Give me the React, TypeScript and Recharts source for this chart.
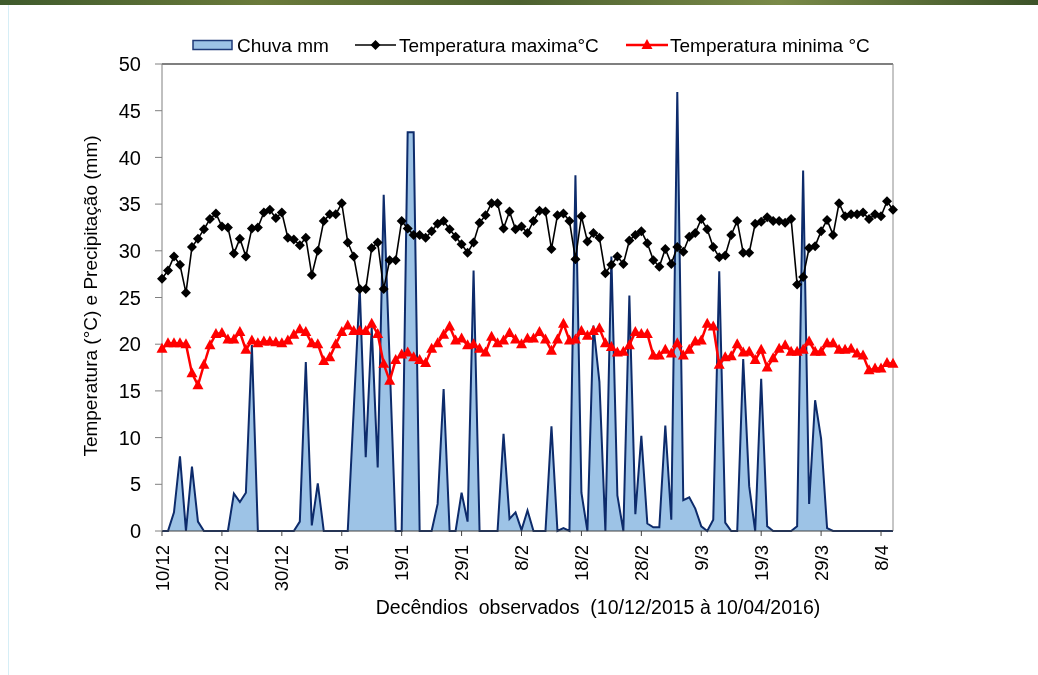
import { ComposedChart, Area, Line, XAxis, YAxis, ReferenceLine, Label } from 'recharts'

// 10/12/2015 .. 10/04/2016, one value per day
const chuva = [
  0, 0, 2.0, 8.0, 0, 6.9, 1.0, 0, 0, 0,
  0, 0, 4.0, 3.1, 4.1, 19.9, 0, 0, 0, 0,
  0, 0, 0, 1.0, 18.1, 0.6, 5.1, 0, 0, 0,
  0, 0, 13.0, 26.0, 7.9, 21.8, 6.8, 36.0, 18.0, 0,
  0, 42.7, 42.7, 0, 0, 0, 2.9, 15.2, 0, 0,
  4.1, 1.0, 27.9, 0, 0, 0, 0, 10.4, 1.3, 2.0,
  0.1, 2.2, 0, 0, 0, 11.2, 0, 0.3, 0, 38.1,
  4.1, 0, 22.0, 16.0, 0, 29.4, 3.8, 0, 25.2, 1.8,
  10.2, 0.8, 0.4, 0.4, 11.3, 1.2, 47.0, 3.3, 3.6, 2.4,
  0.5, 0, 1.2, 27.8, 0.9, 0, 0, 18.4, 4.8, 0,
  16.3, 0.5, 0, 0, 0, 0, 0.5, 38.6, 2.9, 14.0,
  9.9, 0.3, 0, 0, 0, 0, 0, 0, 0, 0,
  0, 0, 0,
]

const tempMax = [
  27.0, 27.9, 29.4, 28.5, 25.5, 30.4, 31.3, 32.3, 33.4, 34.0,
  32.6, 32.5, 29.7, 31.3, 29.4, 32.4, 32.5, 34.1, 34.4, 33.5,
  34.1, 31.4, 31.2, 30.6, 31.4, 27.4, 30.0, 33.2, 33.9, 33.9,
  35.1, 30.9, 29.4, 25.9, 25.9, 30.3, 30.9, 25.9, 29.0, 29.0,
  33.2, 32.4, 31.7, 31.7, 31.4, 32.1, 32.9, 33.2, 32.3, 31.5,
  30.7, 29.8, 30.9, 33.0, 33.8, 35.1, 35.1, 32.4, 34.2, 32.3,
  32.6, 31.9, 33.2, 34.3, 34.2, 30.2, 33.8, 34.0, 33.2, 29.1,
  33.7, 31.0, 31.9, 31.4, 27.6, 28.5, 29.4, 28.6, 31.1, 31.7,
  32.1, 30.8, 29.0, 28.3, 30.2, 28.6, 30.4, 29.9, 31.5, 31.9,
  33.4, 32.3, 30.4, 29.3, 29.5, 31.7, 33.2, 29.8, 29.8, 32.9,
  33.1, 33.6, 33.2, 33.2, 33.0, 33.4, 26.4, 27.2, 30.3, 30.5,
  32.1, 33.3, 31.7, 35.1, 33.7, 33.9, 33.9, 34.1, 33.4, 33.9,
  33.7, 35.3, 34.4,
]

const tempMin = [
  19.5, 20.1, 20.1, 20.1, 20.0, 16.9, 15.6, 17.8, 19.9, 21.1,
  21.2, 20.5, 20.5, 21.3, 19.4, 20.4, 20.1, 20.3, 20.3, 20.2,
  20.1, 20.4, 21.0, 21.6, 21.3, 20.1, 20.0, 18.2, 18.6, 20.0,
  21.3, 22.0, 21.4, 21.4, 21.4, 22.2, 21.1, 17.9, 16.1, 18.3,
  18.9, 19.1, 18.6, 18.3, 18.0, 19.5, 20.1, 21.0, 21.9, 20.4,
  20.6, 19.9, 20.0, 19.5, 19.1, 20.8, 20.1, 20.4, 21.2, 20.5,
  20.0, 20.6, 20.6, 21.3, 20.5, 19.3, 20.5, 22.2, 20.4, 20.5,
  21.4, 20.9, 21.4, 21.7, 20.1, 19.7, 19.1, 19.2, 19.9, 21.3,
  21.1, 21.1, 18.8, 18.8, 19.4, 19.0, 20.1, 18.8, 19.4, 20.3,
  20.4, 22.2, 21.9, 17.8, 18.6, 18.7, 20.0, 19.1, 19.2, 18.3,
  19.4, 17.5, 18.5, 19.5, 19.9, 19.2, 19.2, 19.4, 20.3, 19.2,
  19.2, 20.1, 20.1, 19.4, 19.4, 19.5, 19.0, 18.8, 17.2, 17.4,
  17.4, 18.0, 17.9,
]

// one tick every 10 days
const tickLabels = ['10/12', '20/12', '30/12', '9/1', '19/1', '29/1', '8/2', '18/2', '28/2', '9/3', '19/3', '29/3', '8/4']
const yTicks = [0, 5, 10, 15, 20, 25, 30, 35, 40, 45, 50]

const data = tempMax.map((v, i) => ({ dia: i, chuva: chuva[i], tmax: v, tmin: tempMin[i] }))
const xTicks = tickLabels.map((_, i) => i * 10)
const lastDay = data.length - 1

const FONT = '"Liberation Sans", Arial, sans-serif'

const Diamond = (props: any) => {
  const { cx, cy } = props
  if (cx == null || cy == null) return null
  return <polygon points={`${cx},${cy - 5} ${cx + 5},${cy} ${cx},${cy + 5} ${cx - 5},${cy}`} fill="#000" />
}

const Triangle = (props: any) => {
  const { cx, cy } = props
  if (cx == null || cy == null) return null
  return <polygon points={`${cx},${cy - 6} ${cx + 5.5},${cy + 4} ${cx - 5.5},${cy + 4}`} fill="#ff0000" />
}

const XTick = (props: any) => {
  const { x, y, payload } = props
  return (
    <g transform={`translate(${x + 6.5},${y + 7})`}>
      <text transform="rotate(-90)" textAnchor="end" fontSize={18.5} fontFamily={FONT} fill="#000">
        {tickLabels[payload.value / 10]}
      </text>
    </g>
  )
}

function LegendBox() {
  return (
    <svg width={1030} height={60} style={{ position: 'absolute', left: 0, top: 0 }}>
      <g fontFamily={FONT} fontSize={19} fill="#000">
        <rect x={185} y={32.5} width={39} height={9} fill="#9dc3e6" stroke="#1f3a78" strokeWidth={1.5} />
        <text x={229} y={43.5}>Chuva mm</text>
        <line x1={347} x2={388} y1={37} y2={37} stroke="#000" strokeWidth={1.5} />
        <Diamond cx={367.5} cy={37} />
        <text x={391} y={43.5}>Temperatura maxima°C</text>
        <line x1={618} x2={660} y1={37} y2={37} stroke="#ff0000" strokeWidth={2.5} />
        <Triangle cx={639} cy={37} />
        <text x={662} y={43.5}>Temperatura minima °C</text>
      </g>
    </svg>
  )
}

export default function App() {
  return (
    <div style={{ position: 'relative', width: 1030, height: 667, background: '#fff' }}>
      <div style={{ position: 'fixed', left: 0, top: 0, width: 1038, height: 5, background: 'linear-gradient(90deg, #3f5a2c, #6a7a3a, #4d6130, #7a8a48, #3c5228)' }} />
      <div style={{ position: 'fixed', left: 8, top: 5, width: 1, height: 670, background: '#d6eef6' }} />
      <ComposedChart width={1030} height={667} data={data} margin={{ top: 56, right: 145, bottom: 84, left: 74 }}>
        <XAxis
          dataKey="dia"
          type="number"
          domain={[0, lastDay]}
          ticks={xTicks}
          interval={0}
          tick={<XTick />}
          tickSize={5}
          height={60}
          stroke="#404040"
          allowDecimals={false}
        >
          <Label
            content={() => (
              <text x={590} y={606} textAnchor="middle" fontSize={19.5} fontFamily={FONT} fill="#000" style={{ whiteSpace: 'pre' }}>
                {'Decêndios  observados  (10/12/2015 à 10/04/2016)'}
              </text>
            )}
          />
        </XAxis>
        <YAxis
          type="number"
          domain={[0, 50]}
          ticks={yTicks}
          interval={0}
          width={80}
          tickSize={7}
          tickMargin={14}
          stroke="#808080"
          tick={{ fill: '#000', fontSize: 20, fontFamily: FONT }}
        >
          <Label
            content={() => (
              <text x={89} y={288} transform="rotate(-90 89 288)" textAnchor="middle" fontSize={19} fontFamily={FONT} fill="#000">
                Temperatura (°C) e Precipitação (mm)
              </text>
            )}
          />
        </YAxis>
        <ReferenceLine y={50} stroke="#000" strokeWidth={1.2} />
        <ReferenceLine x={lastDay} stroke="#8c8c8c" strokeWidth={1} />
        <Area
          type="linear"
          dataKey="chuva"
          stroke="#0d2b6b"
          strokeWidth={2}
          fill="#9dc3e6"
          fillOpacity={1}
          dot={false}
          activeDot={false}
          isAnimationActive={false}
        />
        <Line
          type="linear"
          dataKey="tmax"
          stroke="#000"
          strokeWidth={1.6}
          dot={<Diamond />}
          activeDot={false}
          isAnimationActive={false}
        />
        <Line
          type="linear"
          dataKey="tmin"
          stroke="#ff0000"
          strokeWidth={2.5}
          dot={<Triangle />}
          activeDot={false}
          isAnimationActive={false}
        />
      </ComposedChart>
      <LegendBox />
    </div>
  )
}
